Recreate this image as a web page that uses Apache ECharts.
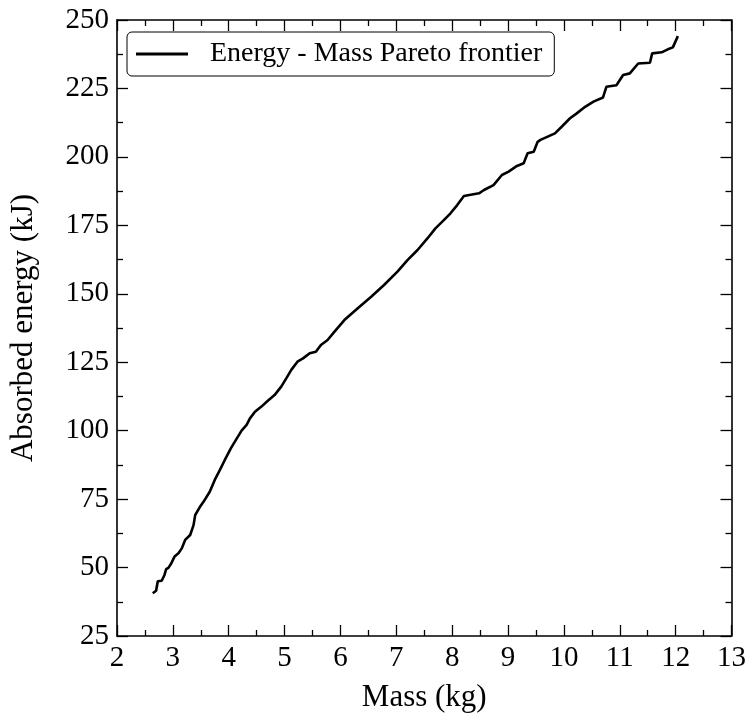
<!DOCTYPE html>
<html>
<head>
<meta charset="utf-8">
<script src="https://cdn.jsdelivr.net/npm/echarts@6/dist/echarts.min.js"></script>
<style>
  html, body { margin: 0; padding: 0; background: #fff; }
  #chart { width: 749px; height: 721px; }
</style>
</head>
<body>
<div id="chart"></div>
<script>
// Pareto frontier
const massKg = [
  2.64, 2.70, 2.73, 2.80, 2.85, 2.88, 2.92, 2.97, 3.03, 3.10, 3.16, 3.22, 3.31, 3.37, 3.40,
  3.48, 3.57, 3.66, 3.75, 3.84, 3.93, 4.04, 4.14, 4.23, 4.32, 4.38, 4.47, 4.58, 4.70, 4.82,
  4.94, 5.03, 5.12, 5.23, 5.33, 5.45, 5.56, 5.65, 5.77, 5.89, 6.07, 6.31, 6.55, 6.78, 7.02,
  7.20, 7.38, 7.56, 7.70, 7.85, 7.97, 8.09, 8.21, 8.48, 8.57, 8.74, 8.89, 9.01, 9.16, 9.28,
  9.35, 9.46, 9.53, 9.58, 9.84, 9.96, 10.11, 10.23, 10.38, 10.53, 10.70, 10.76, 10.94, 11.06,
  11.18, 11.33, 11.54, 11.58, 11.75, 11.86, 11.95, 12.04,
];
const energyKJ = [
  40.6, 41.5, 45.0, 45.2, 47.3, 49.4, 49.9, 51.5, 54.0, 55.2, 57.0, 60.1, 61.9, 65.5, 69.2,
  72.0, 74.7, 77.7, 82.0, 85.6, 89.3, 93.6, 97.0, 100.0, 102.1, 104.5, 106.9, 108.7, 110.9, 113.0,
  116.1, 119.1, 122.2, 125.2, 126.4, 128.3, 128.8, 131.3, 133.1, 136.1, 140.4, 144.7, 148.9, 153.2, 158.1,
  162.3, 166.0, 170.3, 173.9, 176.9, 179.4, 182.4, 185.7, 186.7, 187.9, 189.7, 193.4, 194.6, 196.7, 197.7,
  201.3, 201.9, 205.5, 206.2, 208.6, 211.0, 214.1, 215.9, 218.3, 220.2, 221.7, 225.6, 226.2, 229.9,
  230.5, 234.1, 234.4, 237.8, 238.2, 239.3, 240.0, 244.1,
];
const xRange = [2, 13];
const yRange = [25, 250];
const seriesName = 'Energy - Mass Pareto frontier';

const FONT = 'Liberation Serif';
const tickStyle = { inside: true, length: 11, lineStyle: { color: '#000', width: 1.3 } };
const minorStyle = { show: true, splitNumber: 2, length: 6, lineStyle: { color: '#000', width: 1.3 } };
const lineStyle = { show: true, onZero: false, lineStyle: { color: '#000', width: 1.6 } };

const makeAxis = (range, interval, position, showLabel, name, nameGap) => ({
  type: 'value',
  position,
  min: range[0],
  max: range[1],
  interval,
  name,
  nameLocation: 'middle',
  nameGap,
  nameTextStyle: { fontFamily: FONT, fontSize: 31, color: '#000' },
  axisLine: lineStyle,
  axisTick: tickStyle,
  minorTick: minorStyle,
  splitLine: { show: false },
  axisLabel: {
    show: showLabel,
    fontFamily: FONT,
    fontSize: 29,
    color: '#000',
    margin: 8,
  },
});

const chart = echarts.init(document.getElementById('chart'));
chart.setOption({
  animation: false,
  backgroundColor: '#fff',
  grid: { left: 115, right: 17, top: 20, bottom: 85 },
  legend: {
    left: 127,
    top: 32,
    icon: 'rect',
    itemWidth: 52,
    itemHeight: 3,
    itemGap: 0,
    padding: [8, 12, 8, 9],
    borderColor: '#000',
    borderWidth: 1,
    borderRadius: 5,
    textStyle: { fontFamily: FONT, fontSize: 28, color: '#000', padding: [0, 0, 0, 17] },
    data: [seriesName],
  },
  xAxis: [
    makeAxis(xRange, 1, 'bottom', true, 'Mass (kg)', 46),
    makeAxis(xRange, 1, 'top', false, '', 0),
  ],
  yAxis: [
    makeAxis(yRange, 25, 'left', true, 'Absorbed energy (kJ)', 78),
    makeAxis(yRange, 25, 'right', false, '', 0),
  ],
  series: [
    {
      name: seriesName,
      type: 'line',
      symbol: 'none',
      data: massKg.map((m, i) => [m, energyKJ[i]]),
      lineStyle: { color: '#000', width: 2.6 },
      itemStyle: { color: '#000' },
    },
  ],
});
</script>
</body>
</html>
